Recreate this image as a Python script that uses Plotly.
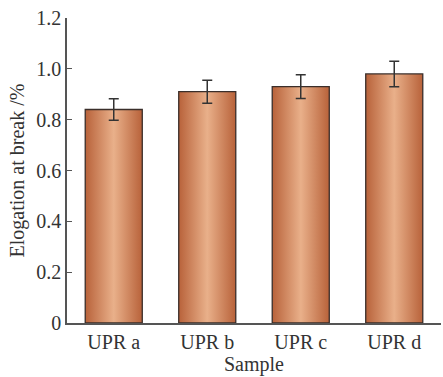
import plotly.graph_objects as go

categories = ["UPR a", "UPR b", "UPR c", "UPR d"]
values = [0.84, 0.91, 0.93, 0.98]
errors = [0.042, 0.045, 0.047, 0.05]
y_tickvals = [0, 0.2, 0.4, 0.6, 0.8, 1.0, 1.2]
y_ticktext = ["0", "0.2", "0.4", "0.6", "0.8", "1.0", "1.2"]

bar_width = 0.61
edge = "#B8623A"
mid = "#E9B08A"
outline = "#3a2e2a"
font = "Liberation Serif, Times New Roman, serif"

fig = go.Figure()
xs = list(range(len(categories)))
for i, v in zip(xs, values):
    x0, x1 = i - bar_width / 2, i + bar_width / 2
    fig.add_trace(go.Scatter(
        x=[x0, x1, x1, x0, x0], y=[0, 0, v, v, 0],
        mode="lines", fill="toself",
        fillgradient=dict(type="horizontal",
                          colorscale=[[0, edge], [0.5, mid], [1, edge]]),
        line=dict(color=outline, width=1.3),
        hoverinfo="skip", showlegend=False))

fig.add_trace(go.Scatter(
    x=xs, y=values, mode="markers",
    marker=dict(size=0.1, color="rgba(0,0,0,0)"),
    error_y=dict(type="data", array=errors, visible=True,
                 color="#333333", thickness=1.5, width=5),
    showlegend=False))

fig.update_layout(
    width=443, height=377,
    margin=dict(l=67, r=2, t=18, b=54),
    plot_bgcolor="white", paper_bgcolor="white",
    font=dict(family=font, size=20, color="#333333"),
    xaxis=dict(range=[-0.5, 3.5], tickvals=xs, ticktext=categories,
               showgrid=False, zeroline=False, showline=True,
               linecolor="#555555", linewidth=1.5, ticks="",
               automargin=False,
               title=dict(text="Sample", standoff=4, font=dict(size=20)),
               tickfont=dict(size=20)),
    yaxis=dict(range=[0, 1.2], tickvals=y_tickvals, ticktext=y_ticktext,
               showgrid=False, zeroline=False, showline=True,
               linecolor="#555555", linewidth=1.5, ticks="inside",
               ticklen=5, tickcolor="#555555", automargin=False,
               title=dict(text="Elogation at break /%", standoff=6,
                          font=dict(size=20)),
               tickfont=dict(size=20)),
)

fig.write_html(
    "out.html",
    config={"displayModeBar": False},
    post_script="document.body.style.margin='0';document.body.style.overflow='hidden';",
)
